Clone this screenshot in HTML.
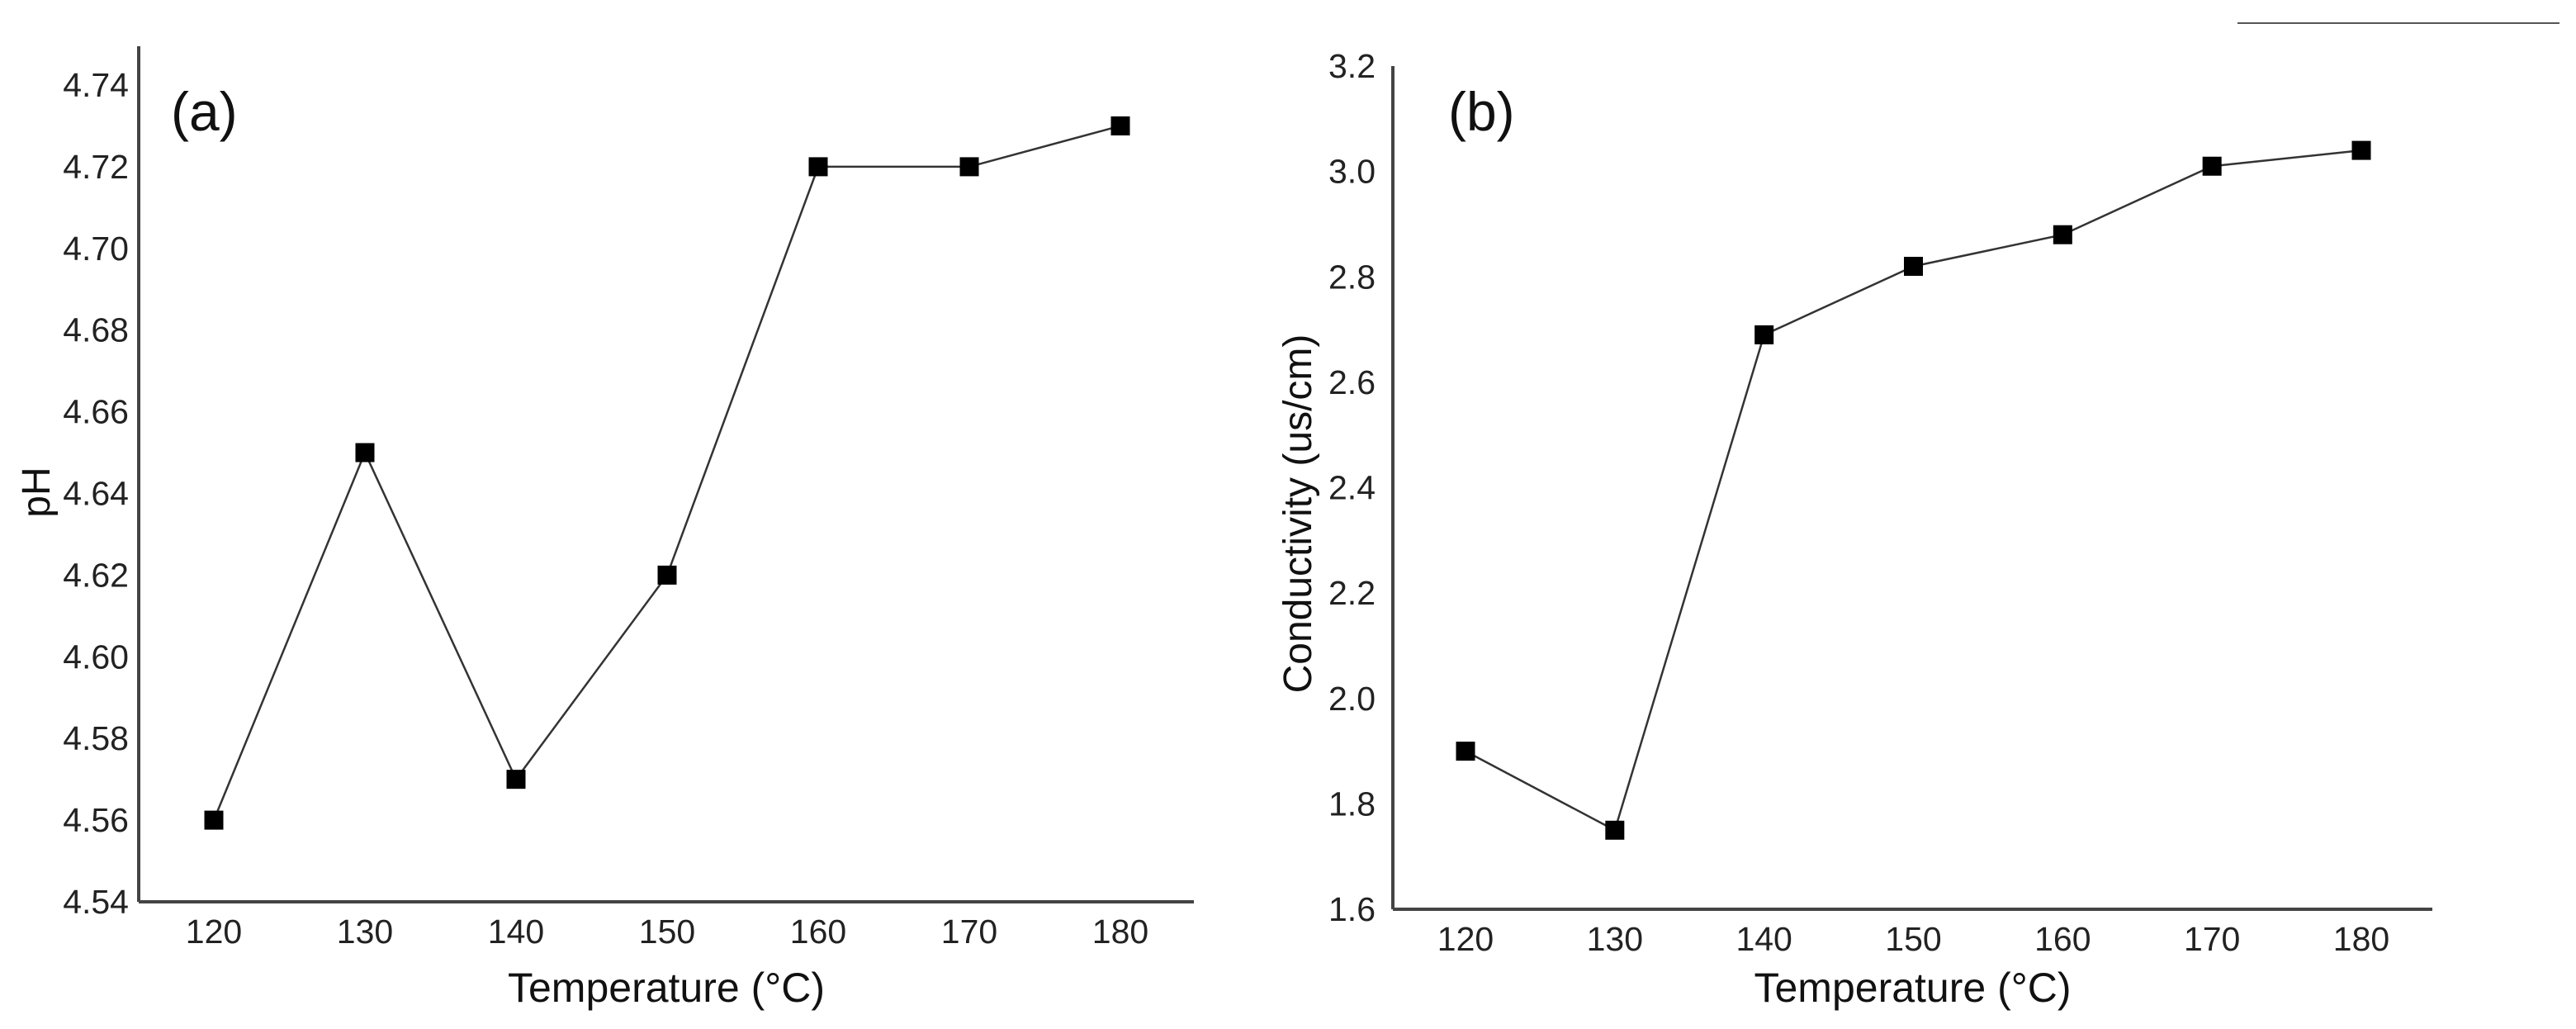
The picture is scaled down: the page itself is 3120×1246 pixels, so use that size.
<!DOCTYPE html>
<html><head><meta charset="utf-8"><style>
html,body{margin:0;padding:0;background:#fff;}
svg{display:block;font-family:"Liberation Sans",Arial,sans-serif;}
</style></head><body>
<svg id="chart" width="3120" height="1246" viewBox="0 0 3120 1246" xmlns="http://www.w3.org/2000/svg">
<line x1="2710" y1="28" x2="3100" y2="28" stroke="#555" stroke-width="2"/>
<g id="pa"></g>
<g id="pb"></g>
</svg>
<script>
const categories = [120,130,140,150,160,170,180];
const phValues = [4.56,4.65,4.57,4.62,4.72,4.72,4.73];
const condValues = [1.90,1.75,2.69,2.82,2.88,3.01,3.04];
const phTicks = ["4.54","4.56","4.58","4.60","4.62","4.64","4.66","4.68","4.70","4.72","4.74"];
const condTicks = ["1.6","1.8","2.0","2.2","2.4","2.6","2.8","3.0","3.2"];

const NS="http://www.w3.org/2000/svg";
function mk(parent,tag,attrs,text){const e=document.createElementNS(NS,tag);for(const k in attrs)e.setAttribute(k,attrs[k]);if(text!==undefined)e.textContent=text;parent.appendChild(e);return e;}

function panel(g,cfg){
  const xs=v=>cfg.x0+(v-categories[0])/(categories[categories.length-1]-categories[0])*(cfg.x1-cfg.x0);
  const ys=v=>cfg.yb-(v-cfg.ymin)/(cfg.ymax-cfg.ymin)*(cfg.yb-cfg.yt);
  let e;
  e=mk(g,'line',{x1:cfg.ax,y1:cfg.axTop,x2:cfg.ax,y2:cfg.yb,stroke:'#444','stroke-width':4});
  
  
  e=mk(g,'line',{x1:cfg.ax,y1:cfg.yb,x2:cfg.axRight,y2:cfg.yb,stroke:'#444','stroke-width':4});
  
  
  cfg.ticks.forEach(t=>{
    e=mk(g,'text',{x:cfg.labelRight,y:ys(parseFloat(t))+14,'text-anchor':'end','font-size':41,fill:'#222'},t);
    
    
  });
  categories.forEach(c=>{
    e=mk(g,'text',{x:xs(c),y:cfg.yb+50,'text-anchor':'middle','font-size':41,fill:'#222'},String(c));
    
    
  });
  const pts=cfg.values.map((v,i)=>xs(categories[i])+','+ys(v)).join(' ');
  e=mk(g,'polyline',{points:pts,fill:'none',stroke:'#333','stroke-width':2.5});
  
  
  cfg.values.forEach((v,i)=>{
    e=mk(g,'rect',{x:xs(categories[i])-11.5,y:ys(v)-11.5,width:23,height:23,fill:'#000'});
    
    
  });
  e=mk(g,'text',{x:cfg.tagX,y:158,'font-size':66,fill:'#111'},cfg.tag);
  
  
  e=mk(g,'text',{x:(cfg.ax+cfg.axRight)/2,y:1213,'text-anchor':'middle','font-size':50,fill:'#111'},'Temperature (°C)');
  
  
  e=mk(g,'text',{x:cfg.ytX,y:cfg.ytY,'text-anchor':'middle','font-size':cfg.ytSize,fill:'#111',transform:`rotate(-90 ${cfg.ytX} ${cfg.ytY})`},cfg.ytitle);
  
  
}
panel(document.getElementById('pa'),{x0:259,x1:1357,ax:168,axTop:56,axRight:1446,yb:1092,yt:103,ymin:4.54,ymax:4.74,
  ticks:phTicks,values:phValues,labelRight:156,tag:'(a)',tagX:207,ytitle:'pH',ytX:60,ytY:596,ytSize:48});
panel(document.getElementById('pb'),{x0:1775,x1:2860,ax:1687,axTop:80,axRight:2946,yb:1101,yt:80,ymin:1.6,ymax:3.2,
  ticks:condTicks,values:condValues,labelRight:1666,tag:'(b)',tagX:1754,ytitle:'Conductivity (us/cm)',ytX:1588,ytY:622,ytSize:48});
</script>
</body></html>
